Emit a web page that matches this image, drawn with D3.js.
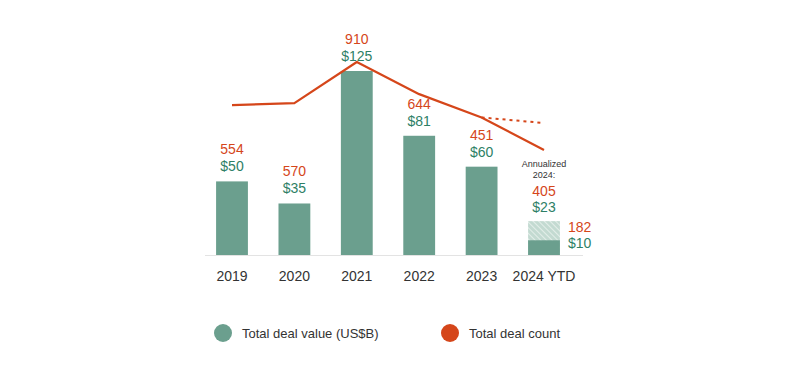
<!DOCTYPE html>
<html>
<head>
<meta charset="utf-8">
<script src="https://cdn.jsdelivr.net/npm/d3@7"></script>
<style>
  body { margin: 0; background: #fff; }
  svg text { font-family: "Liberation Sans", Arial, sans-serif; }
</style>
</head>
<body>
<div id="chart"></div>
<script>
const years = ["2019", "2020", "2021", "2022", "2023", "2024 YTD"];
const dealValue = [50, 35, 125, 81, 60, 10];   // US$B
const dealCount = [554, 570, 910, 644, 451, 182];
const annualizedValue = 23;
const annualizedCount = 405;

(function() {
    const width = 800, height = 371;
    const baseline = 255;

    const barColor = "#6b9f8e";
    const valueText = "#2e7f66";
    const countColor = "#d5461a";

    const svg = d3.select("#chart").append("svg")
        .attr("width", width)
        .attr("height", height);

    // hatch for annualized part of 2024
    const defs = svg.append("defs");
    const pat = defs.append("pattern")
        .attr("id", "hatch")
        .attr("patternUnits", "userSpaceOnUse")
        .attr("width", 4).attr("height", 4)
        .attr("patternTransform", "rotate(-45)");
    pat.append("rect").attr("width", 4).attr("height", 4).attr("fill", "#c3dad1");
    pat.append("line").attr("x1", 0).attr("y1", 0).attr("x2", 0).attr("y2", 4)
        .attr("stroke", "#eef5f2").attr("stroke-width", 1.5);

    const x = d3.scaleBand()
        .domain(years)
        .range([200.8, 575.2])
        .paddingInner(0.49)
        .paddingOuter(0.245);

    const yVal = d3.scaleLinear().domain([0, 125]).range([baseline, 71]);
    const yCnt = d3.scaleLinear().domain([0, 910]).range([172, 62]);

    const cx = d => x(d) + x.bandwidth() / 2;

    // baseline
    svg.append("line")
        .attr("x1", 205).attr("x2", 583)
        .attr("y1", baseline + 0.5).attr("y2", baseline + 0.5)
        .attr("stroke", "#e3e3e3").attr("stroke-width", 1);

    // annualized hatched bar (behind)
    const last = years[years.length - 1];
    svg.append("rect")
        .attr("x", x(last))
        .attr("y", yVal(annualizedValue))
        .attr("width", x.bandwidth())
        .attr("height", baseline - yVal(annualizedValue))
        .attr("fill", "url(#hatch)");

    // bars
    svg.append("g")
        .selectAll("rect")
        .data(years)
        .join("rect")
        .attr("x", d => x(d))
        .attr("y", (d, i) => yVal(dealValue[i]))
        .attr("width", x.bandwidth())
        .attr("height", (d, i) => baseline - yVal(dealValue[i]))
        .attr("fill", barColor);

    // count line
    const line = d3.line()
        .x(d => cx(d.year))
        .y(d => yCnt(d.count));
    const pts = years.map((y, i) => ({year: y, count: dealCount[i]}));
    svg.append("path")
        .datum(pts)
        .attr("d", line)
        .attr("fill", "none")
        .attr("stroke", countColor)
        .attr("stroke-width", 2.2)
        .attr("stroke-linejoin", "round");

    // dotted projection to annualized count
    svg.append("path")
        .datum([pts[4], {year: last, count: annualizedCount}])
        .attr("d", line)
        .attr("fill", "none")
        .attr("stroke", countColor)
        .attr("stroke-width", 2)
        .attr("stroke-dasharray", "3,4");

    // labels above bars (all but last)
    const lbl = svg.append("g").attr("font-size", 14).attr("text-anchor", "middle");
    years.slice(0, -1).forEach((yr, i) => {
        const top = yVal(dealValue[i]);
        lbl.append("text")
            .attr("x", cx(yr)).attr("y", top - 10)
            .attr("fill", valueText)
            .text("$" + dealValue[i]);
        lbl.append("text")
            .attr("x", cx(yr)).attr("y", top - 27)
            .attr("fill", countColor)
            .text(dealCount[i]);
    });

    // annualized labels
    const aTop = yVal(annualizedValue);
    lbl.append("text").attr("x", cx(last)).attr("y", aTop - 9)
        .attr("fill", valueText).text("$" + annualizedValue);
    lbl.append("text").attr("x", cx(last)).attr("y", aTop - 25)
        .attr("fill", countColor).text(annualizedCount);
    lbl.append("text").attr("x", cx(last)).attr("y", aTop - 43)
        .attr("fill", "#333").attr("font-size", 9).text("2024:");
    lbl.append("text").attr("x", cx(last)).attr("y", aTop - 54)
        .attr("fill", "#333").attr("font-size", 9).text("Annualized");

    // YTD labels to the right
    const rx = x(last) + x.bandwidth() + 8;
    svg.append("text").attr("x", rx).attr("y", 232).attr("font-size", 14)
        .attr("fill", countColor).text(dealCount[5]);
    svg.append("text").attr("x", rx).attr("y", 248).attr("font-size", 14)
        .attr("fill", valueText).text("$" + dealValue[5]);

    // x axis labels
    const axis = svg.append("g")
        .attr("transform", `translate(0,${baseline + 2})`)
        .call(d3.axisBottom(x).tickSize(0).tickPadding(14));
    axis.select(".domain").remove();
    axis.selectAll("text")
        .attr("font-size", 14)
        .attr("fill", "#333")
        .attr("font-family", "Liberation Sans, Arial, sans-serif");

    // legend
    const legend = [
        {label: "Total deal value (US$B)", color: barColor, x: 223},
        {label: "Total deal count", color: countColor, x: 450}
    ];
    const lg = svg.append("g");
    legend.forEach(l => {
        lg.append("circle").attr("cx", l.x).attr("cy", 333).attr("r", 9).attr("fill", l.color);
        lg.append("text").attr("x", l.x + 19).attr("y", 338)
            .attr("font-size", 13).attr("fill", "#333").text(l.label);
    });
})();
</script>
</body>
</html>
